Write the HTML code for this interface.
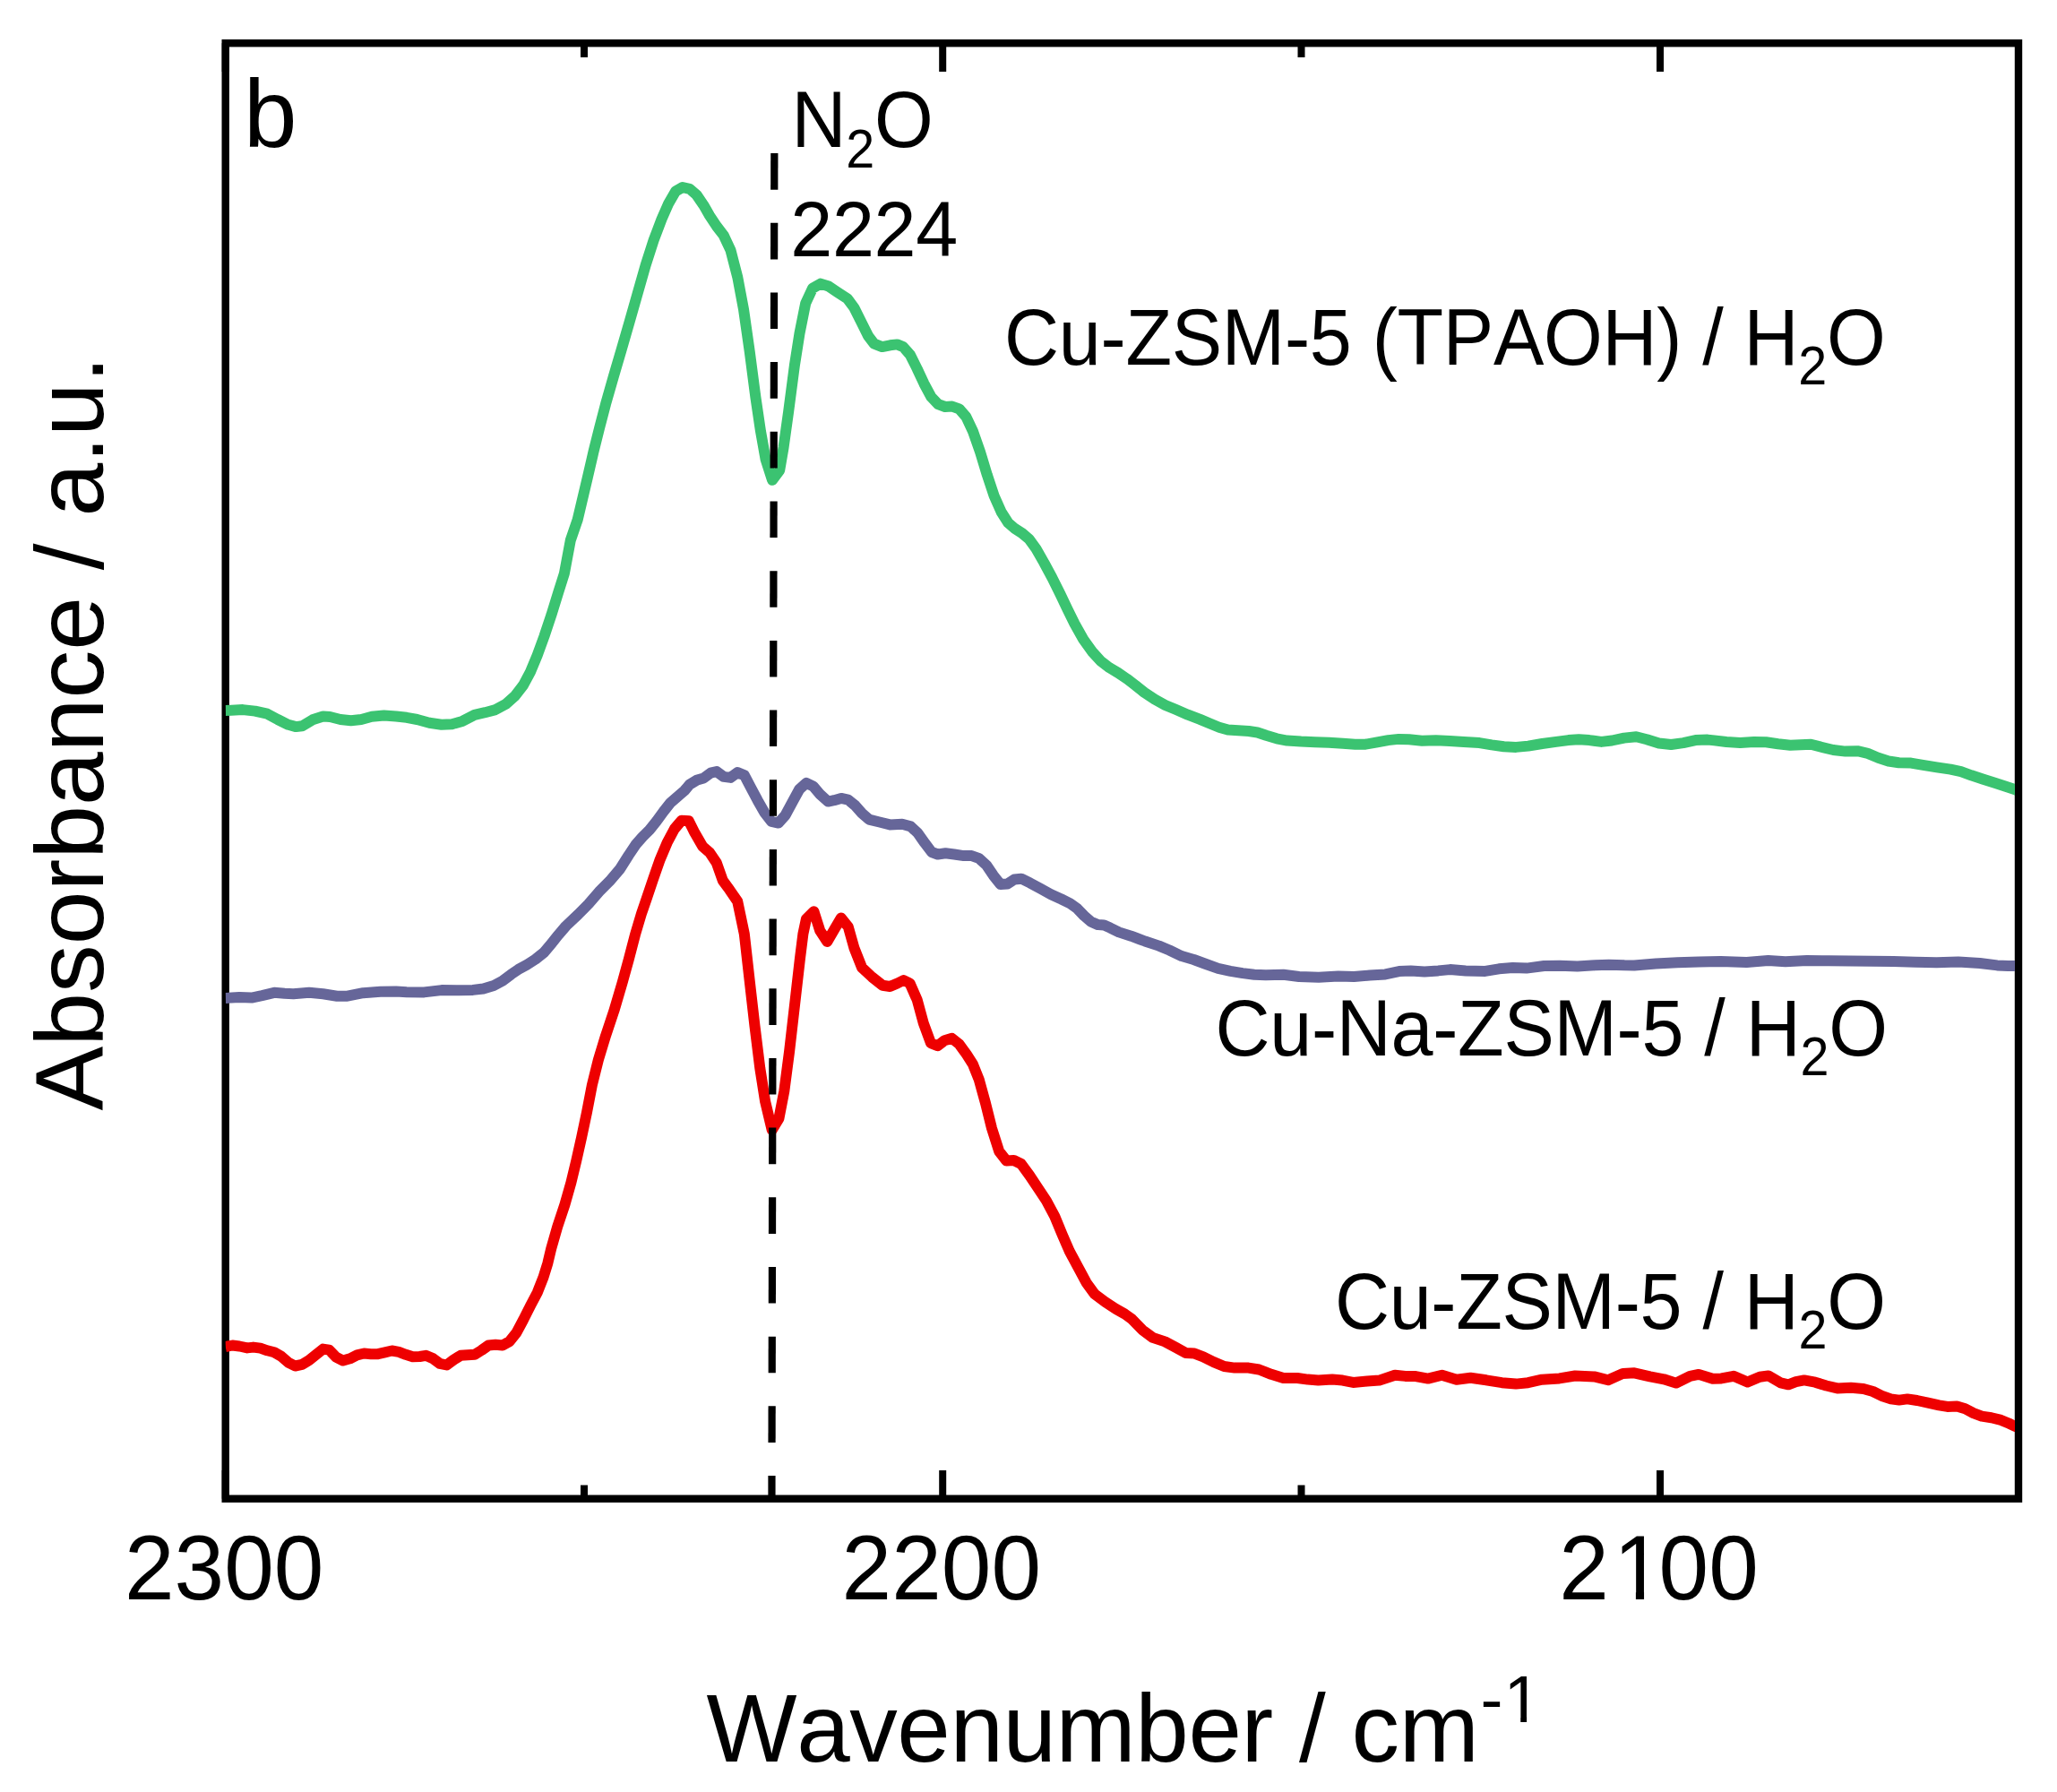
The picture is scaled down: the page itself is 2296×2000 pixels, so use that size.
<!DOCTYPE html>
<html><head><meta charset="utf-8"><title>FTIR spectra</title>
<style>
html,body{margin:0;padding:0;background:#fff;}
svg{display:block;}
text{font-family:"Liberation Sans",sans-serif;fill:#000;font-kerning:none;}
.tk{font-size:100px;text-anchor:middle;}
.ti{font-size:107px;letter-spacing:-0.42px;}
.ty{font-size:107.45px;}
.sp{font-size:75px;letter-spacing:0;}
.lb{font-size:84.5px;letter-spacing:-0.28px;}
.crv{fill:none;stroke-width:12;stroke-linejoin:round;stroke-linecap:butt;}
</style></head>
<body>
<svg width="2296" height="2000" viewBox="0 0 2296 2000">
<defs><clipPath id="cp"><rect x="251.7" y="40" width="1997.3" height="1640"/></clipPath>
<clipPath id="c1a"><rect x="1700" y="1690" width="100" height="120"/><rect x="1853" y="1690" width="147" height="120"/><rect x="1799" y="1690" width="55" height="86.6"/><rect x="1825.9" y="1760" width="9.15" height="40"/></clipPath>
<clipPath id="c1b"><rect x="700" y="1840" width="982" height="160"/><rect x="1681" y="1840" width="55" height="76.0"/><rect x="1697.25" y="1900" width="6.85" height="30"/></clipPath>
</defs>
<rect x="0" y="0" width="2296" height="2000" fill="#fff"/>
<rect x="251.7" y="48.2" width="2001.3" height="1624.5" fill="none" stroke="#000" stroke-width="8.4"/>
<g stroke="#000" stroke-width="8.0">
<line x1="251.7" y1="48.2" x2="251.7" y2="80"/>
<line x1="251.7" y1="1641" x2="251.7" y2="1672.7"/>
<line x1="1052.2" y1="48.2" x2="1052.2" y2="80"/>
<line x1="1052.2" y1="1641" x2="1052.2" y2="1672.7"/>
<line x1="1853.0" y1="48.2" x2="1853.0" y2="80"/>
<line x1="1853.0" y1="1641" x2="1853.0" y2="1672.7"/>
<line x1="652.0" y1="48.2" x2="652.0" y2="64"/>
<line x1="652.0" y1="1657.5" x2="652.0" y2="1672.7"/>
<line x1="1452.5" y1="48.2" x2="1452.5" y2="64"/>
<line x1="1452.5" y1="1657.5" x2="1452.5" y2="1672.7"/>
<line x1="2253.0" y1="48.2" x2="2253.0" y2="64"/>
<line x1="2253.0" y1="1657.5" x2="2253.0" y2="1672.7"/>
</g>
<g clip-path="url(#cp)">
<path class="crv" stroke="#ee0000" d="M251.7,1503.1 L259.4,1501.5 L267.2,1502.5 L276.0,1504.4 L282.8,1503.6 L290.6,1504.6 L298.3,1507.3 L306.1,1509.3 L313.9,1513.8 L321.7,1520.6 L329.4,1524.5 L337.2,1522.9 L345.0,1518.2 L352.8,1511.8 L360.6,1505.6 L367.4,1506.6 L375.1,1514.7 L382.9,1518.6 L390.7,1516.3 L398.5,1512.4 L406.3,1510.5 L414.0,1511.2 L421.8,1511.2 L429.6,1509.3 L437.4,1507.5 L445.2,1508.9 L452.9,1511.8 L460.7,1514.3 L468.5,1514.0 L475.3,1512.8 L483.1,1516.1 L490.9,1521.9 L498.6,1523.5 L506.4,1517.6 L514.2,1512.8 L522.0,1512.2 L529.7,1511.8 L537.5,1507.0 L545.3,1501.5 L553.1,1500.7 L560.9,1501.5 L568.6,1497.2 L576.4,1487.5 L584.2,1472.9 L592.0,1457.4 L599.7,1442.8 L606.6,1425.3 L611.4,1409.7 L615.2,1393.7 L622.2,1369.1 L630.4,1344.5 L637.4,1319.9 L643.3,1295.3 L649.1,1269.5 L655.0,1241.4 L660.9,1210.9 L667.9,1182.8 L676.1,1155.8 L685.5,1127.7 L694.8,1096.1 L701.9,1070.3 L708.9,1043.4 L715.9,1019.9 L721.7,1003.0 L728.9,981.7 L736.7,959.3 L744.5,940.8 L752.9,925.0 L760.8,915.7 L768.9,916.3 L775.5,929.6 L784.3,944.7 L792.1,951.5 L799.9,963.2 L806.7,982.6 L814.5,993.3 L823.2,1006.0 L827.1,1024.5 L830.8,1042.2 L836.6,1093.7 L842.5,1145.3 L848.3,1192.2 L854.2,1229.7 L861.7,1261.0 L869.4,1248.4 L875.3,1217.9 L881.1,1173.4 L887.0,1121.9 L892.9,1070.3 L896.4,1042.2 L899.9,1025.8 L908.4,1017.2 L915.3,1038.8 L923.3,1051.0 L931.3,1037.3 L938.8,1024.5 L946.8,1034.5 L953.3,1057.7 L962.0,1079.8 L973.4,1090.5 L985.1,1099.8 L993.4,1101.0 L1001.6,1097.5 L1008.6,1094.0 L1015.6,1097.5 L1023.8,1116.2 L1030.8,1142.0 L1039.0,1164.3 L1046.5,1167.3 L1054.3,1161.2 L1062.5,1158.9 L1070.7,1165.4 L1078.9,1176.7 L1085.9,1187.7 L1092.9,1205.3 L1100.0,1231.1 L1107.0,1259.2 L1115.2,1285.0 L1123.4,1295.5 L1131.6,1295.0 L1139.8,1299.0 L1149.2,1311.9 L1158.6,1326.0 L1167.9,1340.0 L1177.3,1357.6 L1185.5,1377.5 L1193.7,1396.3 L1203.1,1413.8 L1212.5,1431.4 L1221.8,1444.3 L1233.5,1453.0 L1245.3,1460.7 L1255.5,1466.5 L1263.3,1472.1 L1275.0,1484.2 L1286.7,1492.9 L1300.3,1497.4 L1312.0,1503.6 L1323.6,1510.0 L1333.3,1510.6 L1343.1,1514.3 L1354.7,1520.1 L1366.4,1525.0 L1378.1,1526.6 L1393.6,1526.6 L1405.3,1528.5 L1418.9,1533.8 L1432.5,1538.0 L1448.1,1538.0 L1459.7,1539.6 L1471.4,1540.6 L1487.0,1539.6 L1498.6,1540.6 L1510.3,1542.9 L1525.9,1541.5 L1539.5,1540.6 L1557.0,1534.7 L1568.6,1535.9 L1580.3,1536.1 L1593.9,1538.6 L1609.5,1534.7 L1625.8,1539.7 L1641.4,1537.8 L1658.9,1540.3 L1676.4,1543.2 L1692.0,1544.6 L1705.6,1543.2 L1721.1,1539.7 L1740.6,1538.4 L1758.1,1535.5 L1779.5,1536.4 L1795.0,1540.3 L1811.5,1532.9 L1824.2,1532.3 L1841.7,1536.4 L1857.2,1539.3 L1870.8,1543.6 L1886.4,1535.8 L1896.1,1533.9 L1911.7,1538.8 L1921.4,1538.4 L1935.0,1535.8 L1950.6,1542.6 L1964.2,1536.8 L1973.9,1535.4 L1987.6,1543.4 L1996.2,1545.3 L2004.6,1542.2 L2013.8,1540.4 L2026.1,1542.7 L2038.4,1546.5 L2050.7,1549.4 L2066.0,1548.7 L2079.9,1549.9 L2090.6,1553.0 L2101.4,1558.3 L2110.6,1561.4 L2119.8,1562.6 L2129.0,1561.4 L2139.8,1563.0 L2152.0,1565.6 L2164.3,1568.3 L2173.6,1569.9 L2184.3,1569.4 L2193.5,1572.2 L2202.7,1577.1 L2212.0,1580.6 L2222.7,1582.2 L2233.5,1584.9 L2242.7,1588.8 L2249.1,1591.8 L2253.0,1593.6"/>
<path class="crv" stroke="#666699" d="M251.7,1114.0 L267.2,1113.0 L280.8,1113.6 L292.5,1111.1 L306.1,1107.8 L317.8,1108.8 L327.5,1109.3 L345.0,1107.8 L360.6,1109.3 L376.1,1111.7 L387.8,1111.7 L405.3,1108.2 L424.7,1106.8 L442.2,1106.6 L453.9,1107.2 L473.4,1107.4 L492.8,1105.1 L512.2,1105.3 L527.8,1104.9 L539.5,1103.5 L551.1,1100.0 L560.9,1094.8 L570.6,1087.4 L578.4,1082.1 L588.1,1076.7 L597.8,1070.5 L607.5,1062.7 L615.3,1053.3 L623.1,1043.6 L631.7,1033.5 L645.3,1020.6 L656.9,1008.9 L668.6,995.3 L680.3,983.6 L691.9,970.0 L701.7,954.5 L709.5,942.8 L717.2,934.0 L725.0,926.3 L732.8,916.5 L740.6,905.8 L748.3,896.1 L756.1,889.3 L763.9,882.5 L769.7,875.7 L777.5,870.8 L785.3,868.5 L793.1,862.7 L799.9,861.1 L807.7,866.9 L815.4,867.9 L823.2,862.1 L831.0,865.4 L837.8,878.6 L845.6,893.2 L853.3,906.8 L861.1,916.9 L868.9,918.5 L876.7,909.7 L884.5,895.1 L892.2,881.0 L900.0,873.8 L907.8,877.6 L915.6,886.8 L924.3,894.6 L931.1,893.2 L938.9,890.9 L946.7,892.6 L954.5,899.0 L962.2,907.8 L970.0,914.6 L981.7,917.5 L993.4,920.4 L1007.0,919.8 L1016.5,922.4 L1024.3,929.6 L1032.1,940.7 L1039.9,951.0 L1046.7,953.5 L1055.4,952.3 L1065.1,953.5 L1075.8,955.1 L1084.6,955.1 L1092.4,957.8 L1101.1,965.6 L1108.9,977.2 L1116.7,987.0 L1124.5,986.6 L1132.2,981.5 L1140.0,980.7 L1149.7,985.4 L1161.4,991.8 L1173.1,998.2 L1184.7,1003.5 L1194.5,1008.3 L1202.2,1013.8 L1210.0,1022.0 L1217.8,1028.8 L1225.6,1032.1 L1232.4,1032.6 L1239.2,1035.6 L1248.9,1040.4 L1262.5,1044.7 L1278.1,1050.5 L1293.6,1055.6 L1305.3,1060.5 L1318.9,1067.1 L1332.5,1071.0 L1346.1,1076.0 L1359.7,1080.9 L1373.4,1083.8 L1387.0,1086.1 L1400.0,1087.7 L1412.8,1088.3 L1432.5,1087.8 L1450.0,1090.0 L1471.9,1090.7 L1493.8,1089.6 L1511.3,1090.0 L1528.8,1088.5 L1546.3,1087.4 L1561.6,1084.1 L1574.7,1083.4 L1590.0,1084.5 L1605.3,1083.4 L1618.5,1082.1 L1636.0,1083.4 L1657.8,1083.9 L1673.1,1081.3 L1688.5,1079.9 L1703.8,1080.6 L1723.5,1078.0 L1741.0,1077.8 L1760.7,1078.6 L1780.3,1077.3 L1795.7,1076.7 L1813.2,1077.3 L1824.1,1077.4 L1848.2,1075.5 L1872.3,1074.3 L1896.5,1073.5 L1920.6,1073.1 L1949.5,1074.0 L1973.6,1072.1 L1992.9,1073.3 L2017.0,1072.1 L2041.1,1072.3 L2065.3,1072.6 L2089.4,1072.8 L2113.5,1073.1 L2137.6,1073.8 L2161.7,1074.3 L2185.8,1073.5 L2209.9,1075.0 L2229.2,1077.4 L2241.3,1078.1 L2253.0,1077.9"/>
<path class="crv" stroke="#3bc371" d="M251.7,793.0 L271.1,792.1 L284.7,793.6 L298.3,796.7 L310.0,803.0 L321.7,808.8 L330.4,811.1 L337.2,810.3 L348.9,803.3 L360.6,799.5 L368.3,800.0 L380.0,803.0 L391.7,804.3 L403.3,803.0 L415.0,799.8 L428.6,798.5 L442.2,799.5 L453.9,800.8 L465.6,803.0 L479.2,806.8 L492.8,808.8 L504.5,808.2 L516.1,804.9 L529.7,797.9 L541.4,795.2 L553.1,792.1 L564.7,785.8 L574.5,777.1 L584.2,764.5 L592.0,749.9 L599.7,731.4 L607.5,710.0 L615.3,686.7 L623.1,661.4 L629.9,640.0 L636.8,603.0 L644.7,580.0 L655.9,532.7 L662.6,503.7 L669.3,476.9 L676.0,451.2 L684.9,420.0 L693.8,389.8 L702.8,358.6 L711.7,327.3 L720.6,296.1 L729.6,268.2 L738.5,244.7 L746.3,226.9 L754.1,213.5 L761.9,209.0 L769.7,210.8 L777.5,217.5 L785.4,229.1 L792.1,240.7 L799.9,252.5 L807.7,262.6 L815.5,279.3 L823.3,309.5 L830.0,345.2 L836.7,392.0 L843.4,443.4 L849.0,481.3 L854.6,512.6 L862.0,535.8 L870.2,524.8 L874.6,499.2 L880.2,459.0 L886.9,407.7 L892.5,372.0 L899.2,338.5 L907.0,321.7 L915.9,316.6 L924.9,319.5 L934.9,326.2 L946.1,333.6 L953.4,343.5 L961.2,359.2 L969.0,374.8 L975.7,383.7 L984.6,387.1 L993.6,385.3 L1001.4,384.4 L1008.1,387.1 L1015.9,396.0 L1023.7,411.6 L1031.5,428.3 L1039.3,442.9 L1047.1,451.1 L1055.0,454.0 L1062.8,453.6 L1070.6,456.3 L1078.4,465.2 L1086.2,481.9 L1094.0,504.2 L1101.8,529.9 L1109.6,553.3 L1117.5,571.2 L1125.3,583.5 L1133.1,590.2 L1140.9,595.1 L1148.7,601.8 L1156.5,612.5 L1165.4,628.1 L1174.4,644.9 L1183.3,662.7 L1191.7,680.4 L1199.4,696.0 L1209.2,713.5 L1218.9,727.1 L1228.6,737.8 L1238.3,745.2 L1248.1,751.0 L1257.8,757.6 L1267.5,765.0 L1277.2,772.8 L1288.9,780.6 L1300.6,787.0 L1312.2,791.8 L1325.8,797.7 L1339.5,802.9 L1351.1,807.8 L1360.8,811.7 L1370.6,814.6 L1382.2,815.2 L1393.9,816.0 L1403.6,817.5 L1413.3,820.8 L1425.0,824.3 L1436.7,826.6 L1452.2,827.6 L1467.8,828.2 L1483.4,828.8 L1498.9,829.8 L1512.5,830.7 L1524.2,830.7 L1535.9,828.6 L1549.5,826.1 L1561.1,824.9 L1572.8,825.3 L1587.2,826.7 L1602.8,826.3 L1618.3,826.9 L1633.9,828.1 L1651.4,829.1 L1665.0,831.4 L1678.6,833.3 L1692.2,833.9 L1705.8,832.6 L1721.4,830.0 L1737.0,827.9 L1750.6,826.1 L1762.2,825.2 L1773.9,826.1 L1787.5,827.9 L1799.2,826.5 L1812.8,823.6 L1826.4,822.3 L1838.1,825.2 L1851.7,829.5 L1865.3,831.0 L1878.9,829.1 L1892.5,826.1 L1906.1,825.6 L1913.5,826.4 L1927.0,828.0 L1942.4,828.9 L1957.8,828.0 L1971.2,828.3 L1984.7,830.3 L1998.2,831.8 L2009.7,831.2 L2021.3,830.7 L2032.8,833.7 L2046.3,837.0 L2059.8,838.6 L2073.3,838.2 L2084.8,840.9 L2096.4,845.7 L2107.9,849.5 L2119.5,851.3 L2133.0,851.6 L2146.4,853.8 L2161.8,856.3 L2177.2,858.6 L2188.8,861.1 L2200.3,865.3 L2213.8,869.7 L2227.3,874.0 L2238.8,877.8 L2249.4,881.3 L2253.0,882.8"/>
<g stroke="#000" stroke-width="8.2">
<line x1="864.34" y1="171.1" x2="864.26" y2="211.7"/>
<line x1="864.19" y1="248.8" x2="864.11" y2="289.4"/>
<line x1="864.04" y1="326.5" x2="863.96" y2="367.1"/>
<line x1="863.89" y1="404.1" x2="863.81" y2="444.7"/>
<line x1="863.74" y1="481.8" x2="863.66" y2="522.4"/>
<line x1="863.59" y1="559.5" x2="863.51" y2="600.1"/>
<line x1="863.44" y1="637.2" x2="863.36" y2="677.8"/>
<line x1="863.29" y1="714.9" x2="863.21" y2="755.5"/>
<line x1="863.14" y1="792.5" x2="863.06" y2="833.1"/>
<line x1="862.99" y1="870.2" x2="862.91" y2="910.8"/>
<line x1="862.84" y1="947.9" x2="862.76" y2="988.5"/>
<line x1="862.69" y1="1025.6" x2="862.61" y2="1066.2"/>
<line x1="862.54" y1="1103.3" x2="862.46" y2="1143.9"/>
<line x1="862.39" y1="1180.9" x2="862.31" y2="1221.5"/>
<line x1="862.24" y1="1258.6" x2="862.16" y2="1299.2"/>
<line x1="862.09" y1="1336.3" x2="862.01" y2="1376.9"/>
<line x1="861.94" y1="1414.0" x2="861.86" y2="1454.6"/>
<line x1="861.79" y1="1491.7" x2="861.71" y2="1532.3"/>
<line x1="861.64" y1="1569.3" x2="861.56" y2="1609.9"/>
<line x1="861.49" y1="1647.0" x2="861.44" y2="1672.0"/>
</g>
</g>
<text class="ti" x="272.0" y="163.5">b</text>
<text class="lb" transform="translate(883.6,164.1) scale(1,1.05)">N<tspan font-size="57.5" dy="22.02">2</tspan><tspan dy="-22.02">O</tspan></text>
<text class="lb" transform="translate(882.2,286.3) scale(1,1.025)">2224</text>
<text class="lb" transform="translate(1121.1,407.1) scale(1,1.05)">Cu-ZSM-5 (TPAOH) / H<tspan font-size="57.5" dy="21.06">2</tspan><tspan dy="-21.06">O</tspan></text>
<text class="lb" transform="translate(1356.5,1177.9) scale(1,1.05)">Cu-Na-ZSM-5 / H<tspan font-size="57.5" dy="21.06">2</tspan><tspan dy="-21.06">O</tspan></text>
<text class="lb" transform="translate(1489.9,1482.9) scale(1,1.05)">Cu-ZSM-5 / H<tspan font-size="57.5" dy="21.06">2</tspan><tspan dy="-21.06">O</tspan></text>
<text class="tk" transform="translate(250.2,1785.0) scale(1,1.025)">2300</text>
<text class="tk" transform="translate(1050.8,1785.0) scale(1,1.025)">2200</text>
<g clip-path="url(#c1a)"><text class="tk" style="text-anchor:start" transform="translate(1740.3,1785.0) scale(1,1.025)">2<tspan dx="5">1</tspan><tspan dx="-5">00</tspan></text></g>
<g clip-path="url(#c1b)"><text class="ti" x="788.6" y="1966">Wavenumber / cm<tspan class="sp" x="1652.56" dy="-43.7">-</tspan><tspan class="sp" x="1678.5">1</tspan></text></g>
<text class="ty" transform="translate(115.0,1239.5) rotate(-90)" x="0" y="0">Absorbance / a.u.</text>
</svg>
</body></html>
